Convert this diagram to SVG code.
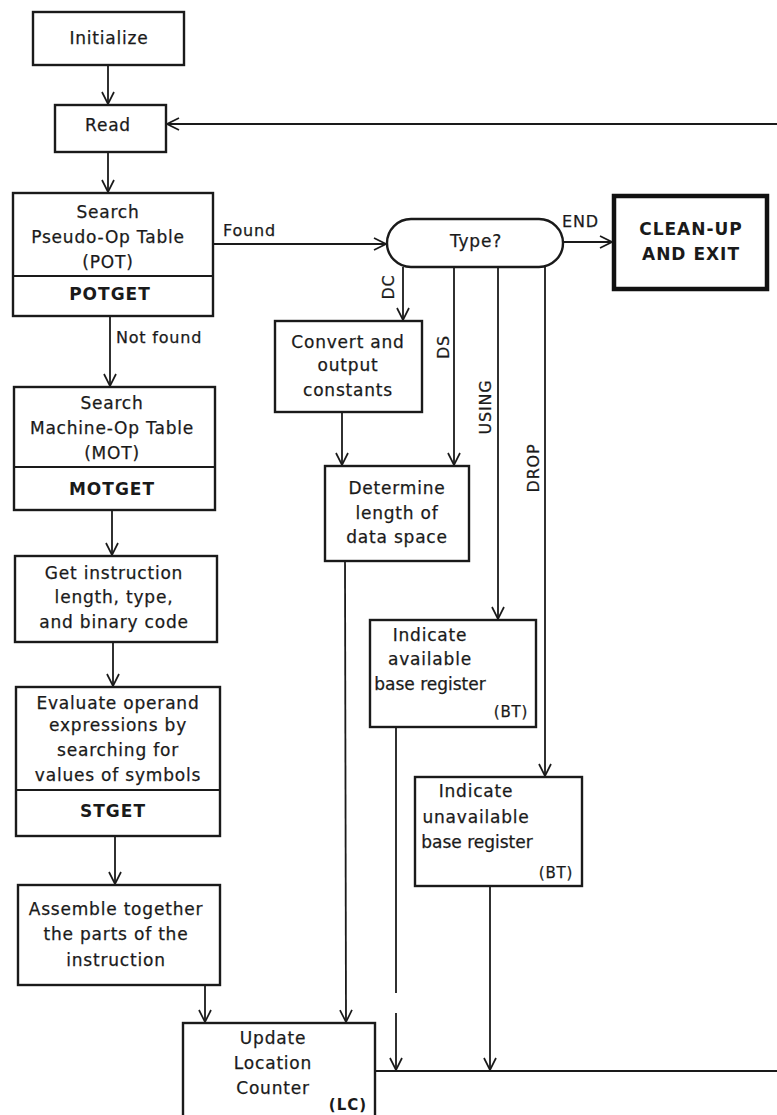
<svg xmlns="http://www.w3.org/2000/svg" width="777" height="1115" viewBox="0 0 777 1115">
<style>
  .box { fill: #fff; stroke: #1a1a1a; stroke-width: 2.4; }
  .thick { fill: #fff; stroke: #111; stroke-width: 4.5; }
  .div { stroke: #1a1a1a; stroke-width: 1.8; }
  .ln { fill: none; stroke: #1a1a1a; stroke-width: 1.8; }
  text { font-family: "DejaVu Sans", "Liberation Sans", sans-serif; font-size: 17px; fill: #1a1a1a; stroke: #1a1a1a; stroke-width: 0.25px; letter-spacing: 0.8px; }
  .c { text-anchor: middle; }
  .b { font-weight: bold; letter-spacing: 1px; stroke-width: 0; }
  .lab { font-size: 16px; }
</style>
<defs>
  <marker id="arr" viewBox="0 0 14 14" refX="13" refY="7" markerWidth="14" markerHeight="14" markerUnits="userSpaceOnUse" orient="auto">
    <path d="M1,1 L13,7 L1,13" fill="none" stroke="#1a1a1a" stroke-width="1.7"/>
  </marker>
</defs>

<g id="connectors">
  <line class="ln" x1="108" y1="65" x2="108" y2="104" marker-end="url(#arr)"/>
  <line class="ln" x1="108" y1="152" x2="108" y2="192" marker-end="url(#arr)"/>
  <line class="ln" x1="777" y1="124" x2="167" y2="124" marker-end="url(#arr)"/>
  <line class="ln" x1="213" y1="244" x2="386" y2="244" marker-end="url(#arr)"/>
  <line class="ln" x1="563" y1="242" x2="612" y2="242" marker-end="url(#arr)"/>
  <line class="ln" x1="110" y1="316" x2="110" y2="386" marker-end="url(#arr)"/>
  <line class="ln" x1="112" y1="510" x2="112" y2="555" marker-end="url(#arr)"/>
  <line class="ln" x1="113" y1="642" x2="113" y2="686" marker-end="url(#arr)"/>
  <line class="ln" x1="115" y1="836" x2="115" y2="884" marker-end="url(#arr)"/>
  <line class="ln" x1="205" y1="985" x2="205" y2="1022" marker-end="url(#arr)"/>
  <line class="ln" x1="403" y1="267" x2="403" y2="320" marker-end="url(#arr)"/>
  <line class="ln" x1="342" y1="412" x2="342" y2="465" marker-end="url(#arr)"/>
  <line class="ln" x1="454" y1="267" x2="454" y2="465" marker-end="url(#arr)"/>
  <line class="ln" x1="498" y1="267" x2="498" y2="619" marker-end="url(#arr)"/>
  <line class="ln" x1="545" y1="267" x2="545" y2="776" marker-end="url(#arr)"/>
  <line class="ln" x1="345" y1="561" x2="346" y2="1022" marker-end="url(#arr)"/>
  <line class="ln" x1="396" y1="727" x2="396" y2="993"/>
  <line class="ln" x1="396" y1="1013" x2="396" y2="1070" marker-end="url(#arr)"/>
  <line class="ln" x1="490" y1="886" x2="490" y2="1070" marker-end="url(#arr)"/>
  <line class="ln" x1="375" y1="1071" x2="777" y2="1071"/>
  <text class="lab" x="223" y="236">Found</text>
  <text class="lab" x="562" y="227">END</text>
  <text class="lab" x="116" y="343">Not found</text>
  <text class="lab c" transform="translate(394,287) rotate(-90)">DC</text>
  <text class="lab c" transform="translate(449,347) rotate(-90)">DS</text>
  <text class="lab c" transform="translate(491,407) rotate(-90)">USING</text>
  <text class="lab c" transform="translate(539,468) rotate(-90)">DROP</text>
</g>

<g id="initialize">
  <rect class="box" x="33" y="12" width="151" height="53"/>
  <text class="c" x="109" y="44">Initialize</text>
</g>

<g id="read">
  <rect class="box" x="55" y="105" width="111" height="47"/>
  <text class="c" x="108" y="131">Read</text>
</g>

<g id="pot">
  <rect class="box" x="13" y="193" width="200" height="123"/>
  <line class="div" x1="13" y1="276" x2="213" y2="276"/>
  <text class="c" x="108" y="218">Search</text>
  <text class="c" x="108" y="243">Pseudo-Op Table</text>
  <text class="c" x="108" y="268">(POT)</text>
  <text class="c b" x="110" y="300">POTGET</text>
</g>

<g id="type">
  <rect class="box" x="387" y="219" width="176" height="48" rx="24" ry="24"/>
  <text class="c" x="476" y="247">Type?</text>
</g>

<g id="cleanup">
  <rect class="thick" x="614" y="196" width="153" height="93"/>
  <text class="c b" x="691" y="235">CLEAN-UP</text>
  <text class="c b" x="691" y="260">AND EXIT</text>
</g>

<g id="mot">
  <rect class="box" x="14" y="387" width="201" height="123"/>
  <line class="div" x1="14" y1="467" x2="215" y2="467"/>
  <text class="c" x="112" y="409">Search</text>
  <text class="c" x="112" y="434">Machine-Op Table</text>
  <text class="c" x="112" y="459">(MOT)</text>
  <text class="c b" x="112" y="495">MOTGET</text>
</g>

<g id="getinstr">
  <rect class="box" x="15" y="556" width="202" height="86"/>
  <text class="c" x="114" y="579">Get instruction</text>
  <text class="c" x="114" y="603">length, type,</text>
  <text class="c" x="114" y="628">and binary code</text>
</g>

<g id="evaluate">
  <rect class="box" x="16" y="687" width="204" height="149"/>
  <line class="div" x1="16" y1="790" x2="220" y2="790"/>
  <text class="c" x="118" y="709">Evaluate operand</text>
  <text class="c" x="118" y="731">expressions by</text>
  <text class="c" x="118" y="756">searching for</text>
  <text class="c" x="118" y="781">values of symbols</text>
  <text class="c b" x="113" y="817">STGET</text>
</g>

<g id="assemble">
  <rect class="box" x="18" y="885" width="202" height="100"/>
  <text class="c" x="116" y="915">Assemble together</text>
  <text class="c" x="116" y="940">the parts of the</text>
  <text class="c" x="116" y="966">instruction</text>
</g>

<g id="lc">
  <rect class="box" x="183" y="1023" width="192" height="100"/>
  <text class="c" x="273" y="1044">Update</text>
  <text class="c" x="273" y="1069">Location</text>
  <text class="c" x="273" y="1094">Counter</text>
  <text class="c b" x="348" y="1110" style="font-size:15px">(LC)</text>
</g>

<g id="convert">
  <rect class="box" x="275" y="321" width="147" height="91"/>
  <text class="c" x="348" y="348">Convert and</text>
  <text class="c" x="348" y="371">output</text>
  <text class="c" x="348" y="396">constants</text>
</g>

<g id="determine">
  <rect class="box" x="325" y="466" width="144" height="95"/>
  <text class="c" x="397" y="494">Determine</text>
  <text class="c" x="397" y="519">length of</text>
  <text class="c" x="397" y="543">data space</text>
</g>

<g id="available">
  <rect class="box" x="370" y="620" width="166" height="107"/>
  <text class="c" x="430" y="641">Indicate</text>
  <text class="c" x="430" y="665">available</text>
  <text class="c" x="430" y="690" style="letter-spacing:0">base register</text>
  <text class="c" x="511" y="717" style="font-size:15px">(BT)</text>
</g>

<g id="unavailable">
  <rect class="box" x="415" y="777" width="167" height="109"/>
  <text class="c" x="476" y="797">Indicate</text>
  <text class="c" x="476" y="823">unavailable</text>
  <text class="c" x="477" y="848" style="letter-spacing:0">base register</text>
  <text class="c" x="556" y="878" style="font-size:15px">(BT)</text>
</g>
</svg>
